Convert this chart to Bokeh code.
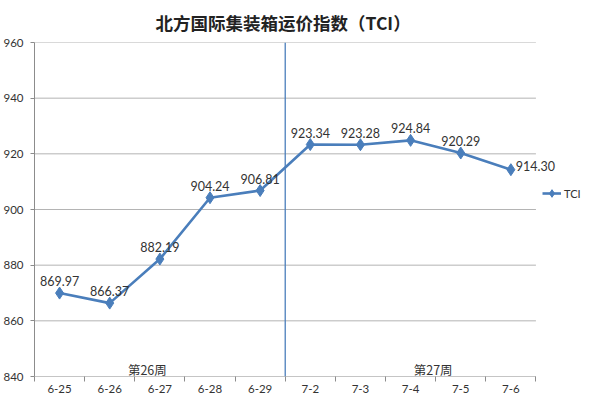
from bokeh.plotting import figure
from bokeh.models import (Range1d, FixedTicker, Span, Legend, LegendItem, ColumnDataSource)
from bokeh.core.properties import value
from bokeh.embed import file_html
from bokeh.resources import INLINE

dates = ["6-25", "6-26", "6-27", "6-28", "6-29", "7-2", "7-3", "7-4", "7-5", "7-6"]
tci = [869.97, 866.37, 882.19, 904.24, 906.81, 923.34, 923.28, 924.84, 920.29, 914.30]
tci_labels = ["869.97", "866.37", "882.19", "904.24", "906.81", "923.34", "923.28", "924.84", "920.29", "914.30"]
weeks = ["第26周", "第27周"]
y_ticks = [840, 860, 880, 900, 920, 940, 960]

BLUE = "#4a7ebb"
GRID = "#b4b4b4"
AXIS = "#8c8c8c"
TXT = "#333333"
NUMFONT = "Lato"

W, H = 584, 395
LEFT, TOP, BOTTOM = 29, 34, 18
DATA_W = 506          # pixel width of the category area
FRAME_W = W - LEFT    # frame runs to the right edge so the legend fits inside

n = len(dates)
xs = [i + 0.5 for i in range(n)]  # category centres on a band scale

p = figure(width=W, height=H, x_range=Range1d(0, n * FRAME_W / DATA_W),
           y_range=Range1d(y_ticks[0], y_ticks[-1]),
           output_backend="svg", toolbar_location=None,
           min_border_left=LEFT, min_border_right=0, min_border_top=TOP, min_border_bottom=BOTTOM)
p.outline_line_color = None
p.background_fill_color = "white"
p.border_fill_color = "white"

p.title.text = "北方国际集装箱运价指数（TCI）"
p.title.text_font = "Noto Sans CJK SC"
p.title.text_font_size = "17.5px"
p.title.text_font_style = "bold"
p.title.text_color = "#222222"
p.title.align = "left"
p.title.offset = 121
p.title.standoff = 15

# x axis: labels at category centres, ticks at category boundaries
p.xaxis.ticker = FixedTicker(ticks=xs, minor_ticks=list(range(n + 1)))
p.xaxis.major_label_overrides = {x: d for x, d in zip(xs, dates)}
p.xaxis.axis_line_color = None
p.xaxis.major_tick_line_color = None
p.xaxis.major_tick_out = 0
p.xaxis.major_tick_in = 0
p.xaxis.minor_tick_line_color = AXIS
p.xaxis.minor_tick_out = 5
p.xaxis.minor_tick_in = 0
p.xaxis.major_label_standoff = 3
p.xaxis.major_label_text_font = NUMFONT
p.xaxis.major_label_text_font_size = "11.5px"
p.xaxis.major_label_text_color = TXT

p.yaxis.ticker = FixedTicker(ticks=y_ticks)
p.yaxis.axis_line_color = AXIS
p.yaxis.major_tick_line_color = AXIS
p.yaxis.major_tick_out = 4
p.yaxis.major_tick_in = 0
p.yaxis.minor_tick_line_color = None
p.yaxis.major_label_standoff = 7
p.yaxis.major_label_text_font = NUMFONT
p.yaxis.major_label_text_font_size = "11.5px"
p.yaxis.major_label_text_color = TXT

p.xgrid.grid_line_color = None
p.ygrid.grid_line_color = None

# horizontal gridlines over the category area only
p.segment(x0=0, x1=n, y0=y_ticks[1:], y1=y_ticks[1:], line_color=GRID, line_width=1)
p.segment(x0=[0], x1=[n], y0=[y_ticks[0]], y1=[y_ticks[0]], line_color=AXIS, line_width=1)

# week divider between 6-29 and 7-2
p.add_layout(Span(location=dates.index("7-2"), dimension="height",
                  line_color=BLUE, line_width=1.3))

src = ColumnDataSource(dict(x=xs, y=tci, lab=tci_labels))
ln = p.line("x", "y", source=src, line_color=BLUE, line_width=2.6)
mk = p.scatter("x", "y", source=src, marker="diamond", size=12, fill_color=BLUE,
               line_color=BLUE)

lab_main = ColumnDataSource(dict(x=xs[:n - 1], y=tci[:n - 1], lab=tci_labels[:n - 1]))
p.text("x", "y", text="lab", source=lab_main, text_align="center", text_baseline="bottom",
       y_offset=-7, text_font=value(NUMFONT), text_font_size="12.5px", text_color=TXT)
lab_last = ColumnDataSource(dict(x=xs[n - 1:], y=tci[n - 1:], lab=tci_labels[n - 1:]))
p.text("x", "y", text="lab", source=lab_last, text_align="left", text_baseline="middle",
       x_offset=5, y_offset=-4, text_font=value(NUMFONT), text_font_size="12.5px", text_color=TXT)

# week labels
wk = ColumnDataSource(dict(x=[2.25, 7.95], y=[842.6, 842.6], t=weeks))
p.text("x", "y", text="t", source=wk, text_align="center",
       text_baseline="middle", text_font=value("Noto Sans CJK SC"), text_font_size="12.5px",
       text_color=TXT)

legend = Legend(items=[LegendItem(label="TCI", renderers=[ln, mk])],
                location=(508, 173), padding=0, margin=0, spacing=0,
                border_line_color=None, background_fill_alpha=0,
                glyph_width=19, label_standoff=3, label_text_font=NUMFONT,
                label_text_font_size="11px", label_text_color=TXT)
p.add_layout(legend, "center")

open("out.html", "w").write(file_html(p, INLINE))
